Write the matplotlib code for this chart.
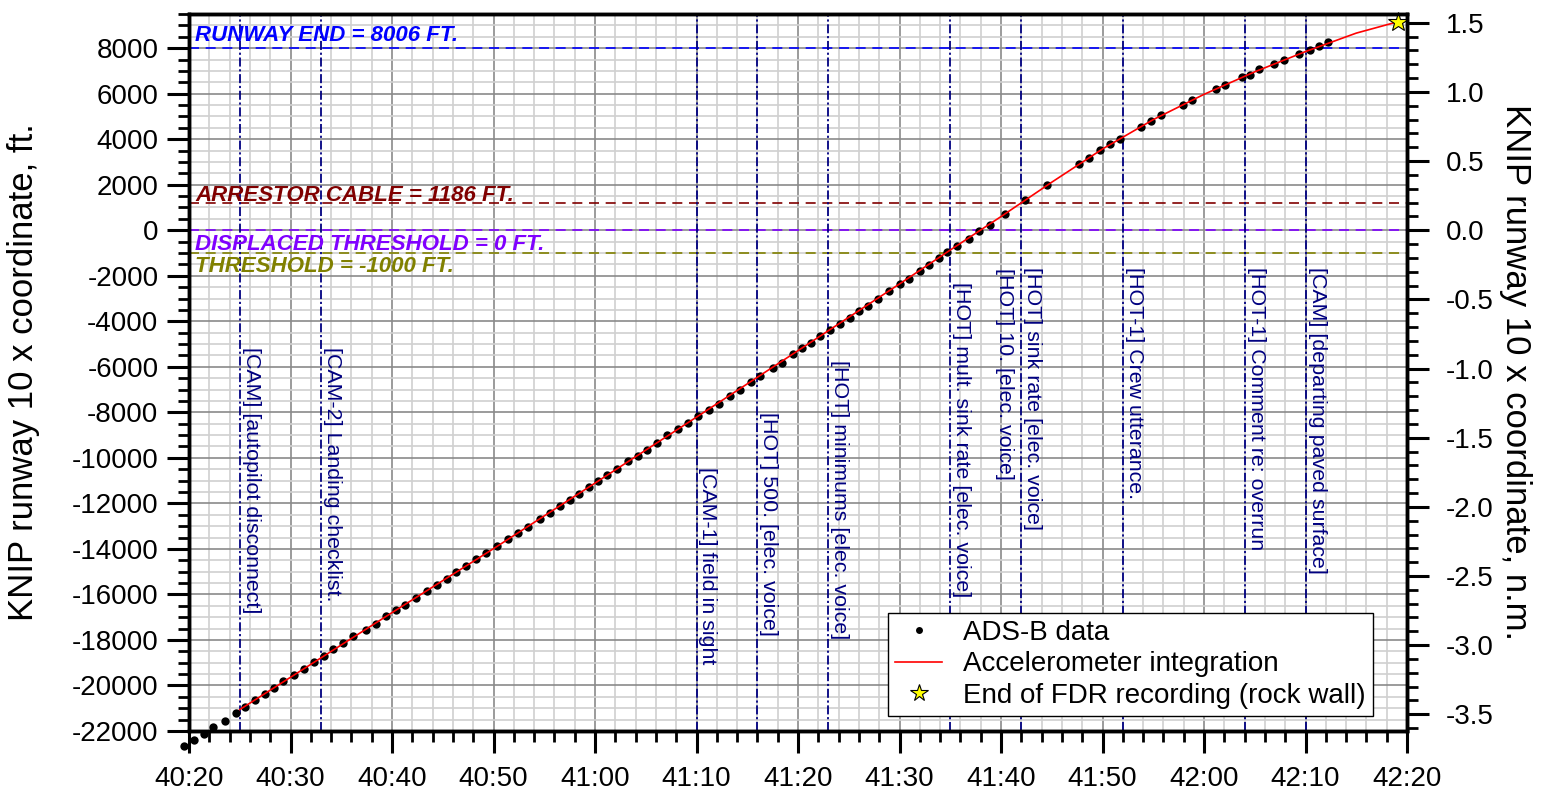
import matplotlib
matplotlib.use("Agg")
import matplotlib.pyplot as plt
from matplotlib.lines import Line2D
from matplotlib.ticker import MultipleLocator, FuncFormatter, FormatStrFormatter

plt.rcParams["font.family"] = ["Liberation Sans", "DejaVu Sans"]
plt.rcParams["axes.unicode_minus"] = False

FT_PER_NM = 6076.12

# ADS-B positions: time (s after the hour) and runway-10 x coordinate (ft)
adsb_time = [
    2419.5, 2420.5, 2421.5, 2422.4, 2423.5, 2424.6, 2425.5, 2426.5, 2427.5, 2428.4,
    2429.3, 2430.3, 2431.3, 2432.3, 2433.3, 2434.2, 2435.2, 2436.2, 2437.4, 2438.4,
    2439.4, 2440.4, 2441.3, 2442.4, 2443.4, 2444.4, 2445.4, 2446.3, 2447.3, 2448.3,
    2449.3, 2450.3, 2451.4, 2452.4, 2453.4, 2454.6, 2455.6, 2456.6, 2457.5, 2458.4,
    2459.4, 2460.3, 2461.2, 2462.2, 2463.3, 2464.2, 2465.1, 2466.1, 2467.1, 2468.2,
    2469.2, 2470.1, 2471.2, 2472.2, 2473.3, 2474.3, 2475.4, 2476.3, 2477.5, 2478.4,
    2479.5, 2480.4, 2481.3, 2482.2, 2483.2, 2484.1, 2485.1, 2486.0, 2486.9, 2487.9,
    2489.0, 2490.0, 2490.9, 2492.0, 2492.9, 2493.9, 2494.7, 2495.7, 2496.8, 2497.8,
    2498.9, 2500.4, 2502.4, 2504.5, 2507.7, 2508.7, 2509.8, 2510.7, 2511.7, 2513.8,
    2514.8, 2515.8, 2517.9, 2518.8, 2521.2, 2522.1, 2523.7, 2524.5, 2525.4, 2526.9,
    2527.9, 2529.4, 2530.4, 2531.3, 2532.2,
]
adsb_ft = [
    -22680, -22390, -22125, -21835, -21570, -21215, -20955, -20630, -20365, -20100,
    -19795, -19560, -19280, -18990, -18710, -18405, -18140, -17845, -17550, -17290,
    -16955, -16705, -16455, -16145, -15855, -15575, -15325, -15020, -14770, -14460,
    -14200, -13890, -13570, -13290, -13025, -12675, -12410, -12115, -11840, -11605,
    -11295, -11005, -10770, -10490, -10140, -9905, -9655, -9335, -8995, -8745,
    -8470, -8175, -7910, -7620, -7265, -7005, -6680, -6390, -6035, -5815,
    -5450, -5185, -4950, -4660, -4395, -4105, -3855, -3545, -3310, -3005,
    -2665, -2375, -2125, -1790, -1510, -1200, -935, -690, -395, -30,
    250, 720, 1335, 1980, 2900, 3180, 3505, 3780, 4030, 4540,
    4790, 5055, 5495, 5700, 6210, 6390, 6725, 6840, 7075, 7325,
    7500, 7735, 7925, 8090, 8250,
]

# Position from integrated accelerometer data
accel_time = [2425.0, 2430, 2440, 2450, 2460, 2470, 2480, 2490, 2495, 2500,
              2505, 2510, 2515, 2520, 2525, 2530, 2535, 2539.1]
accel_ft = [-21060, -19640, -16800, -13990, -11110, -8210, -5290, -2360, -870, 600,
            2110, 3570, 4860, 5970, 6960, 7850, 8660, 9160]

# End of FDR recording
fdr_end_time = 2539.1
fdr_end_ft = 9160

# Runway reference positions
ref_names = ["RUNWAY END", "ARRESTOR CABLE", "DISPLACED THRESHOLD", "THRESHOLD"]
ref_ft = [8006, 1186, 0, -1000]
ref_colors = ["#0000ff", "#800000", "#8000ff", "#808000"]
ref_text_offset_px = [7.5, 2.5, -20, -19.5]

# CVR / cockpit events
event_time = [2425, 2433, 2470, 2476, 2483, 2495, 2502, 2502, 2512, 2524, 2530]
event_label = [
    "[CAM] [autopilot disconnect]",
    "[CAM-2] Landing checklist.",
    "[CAM-1] field in sight",
    "[HOT] 500. [elec. voice]",
    "[HOT] minimums [elec. voice]",
    "[HOT] mult. sink rate [elec. voice]",
    "[HOT] 10. [elec. voice]",
    "[HOT] sink rate [elec. voice]",
    "[HOT-1] Crew utterance.",
    "[HOT-1] Comment re: overrun",
    "[CAM] [departing paved surface]",
]
event_text_top = [-5143, -5143, -10418, -8000, -5714, -2286, -1670, -1626, -1626, -1626, -1626]
event_text_side = ["r", "r", "r", "r", "r", "r", "l", "r", "r", "r", "r"]

x_min, x_max = 2420, 2540
y_min, y_max = -22000, 9500

TICK_FS = 20

fig = plt.figure(figsize=(15.41, 7.94), dpi=100)
ax = fig.add_axes([189 / 1541, 63 / 794, 1218 / 1541, 717 / 794])
ax.set_xlim(x_min, x_max)
ax.set_ylim(y_min, y_max)

# grid
ax.xaxis.set_major_locator(MultipleLocator(10))
ax.xaxis.set_minor_locator(MultipleLocator(2))
ax.yaxis.set_major_locator(MultipleLocator(2000))
ax.yaxis.set_minor_locator(MultipleLocator(500))
ax.grid(which="major", color="#8a8a8a", lw=1.2, zorder=0)
ax.grid(which="minor", color="#d0d0d0", lw=1.2, zorder=0)
ax.set_axisbelow(True)

ax.xaxis.set_major_formatter(FuncFormatter(lambda s, _: f"{int(round(s)) // 60}:{int(round(s)) % 60:02d}"))

for sp in ax.spines.values():
    sp.set_linewidth(2.5)
ax.tick_params(which="major", direction="out", length=16, width=2.2, labelsize=TICK_FS, pad=6,
               top=False, right=False)
ax.tick_params(axis="x", which="major", pad=9)
ax.tick_params(which="minor", direction="out", length=8, width=2.0, top=False, right=False)

# reference lines and their captions
for name, ft, col, off in zip(ref_names, ref_ft, ref_colors, ref_text_offset_px):
    ax.axhline(ft, color=col, lw=1.2, ls=(0, (6, 4)), zorder=2)
    ax.annotate(f"{name} = {ft} FT.", xy=(x_min + 0.6, ft), xytext=(0, off),
                textcoords="offset pixels", color=col, fontsize=16, fontweight="bold",
                fontstyle="italic", ha="left", va="baseline", zorder=3)

# event lines and labels
for t in sorted(set(event_time)):
    ax.axvline(t, color="#000080", lw=1.3, ls=(0, (5, 1.5, 1.2, 1.5)), zorder=2)
for t, lab, top, side in zip(event_time, event_label, event_text_top, event_text_side):
    if side == "r":
        ax.annotate(lab, xy=(t, top), xytext=(2, 0), textcoords="offset pixels",
                    rotation=270, ha="left", va="top", color="#000080", fontsize=15.4,
                    zorder=3)
    else:
        ax.annotate(lab, xy=(t, top), xytext=(-7, 0), textcoords="offset pixels",
                    rotation=270, ha="right", va="top", color="#000080", fontsize=15.4,
                    zorder=3)

# data
ax.plot(adsb_time, adsb_ft, "o", color="black", ms=6, mew=0, zorder=4, clip_on=False)
ax.plot(accel_time, accel_ft, "-", color="red", lw=1.2, zorder=5)
ax.plot([fdr_end_time], [fdr_end_ft], "*", ms=15, mfc="yellow", mec="black", mew=0.8,
        zorder=6, clip_on=False)

ax.set_ylabel("KNIP runway 10 x coordinate, ft.", fontsize=25)
ax.yaxis.set_label_coords(-0.1223, 0.5)

# nautical mile scale on the right
ax2 = ax.twinx()
ax2.set_ylim(y_min / FT_PER_NM, y_max / FT_PER_NM)
ax2.yaxis.set_major_locator(MultipleLocator(0.5))
ax2.yaxis.set_minor_locator(MultipleLocator(0.1))
ax2.yaxis.set_major_formatter(FormatStrFormatter("%.1f"))
for sp in ax2.spines.values():
    sp.set_linewidth(2.5)
ax2.tick_params(which="major", direction="out", length=16, width=2.2, labelsize=TICK_FS, pad=12)
ax2.tick_params(which="minor", direction="out", length=8, width=2.0)
ax2.set_ylabel("KNIP runway 10 x coordinate, n.m.", fontsize=25, rotation=270)
ax2.yaxis.set_label_coords(1.103, 0.5)

handles = [
    Line2D([], [], marker="o", ls="none", color="black", ms=5, mew=0),
    Line2D([], [], color="red", lw=1.2),
    Line2D([], [], marker="*", ls="none", ms=13, mfc="yellow", mec="black", mew=0.8),
]
labels = ["ADS-B data", "Accelerometer integration", "End of FDR recording (rock wall)"]
leg = ax2.legend(handles, labels, loc="lower right", bbox_to_anchor=(0.972, 0.021),
                 borderaxespad=0, fontsize=20, frameon=True, fancybox=False,
                 edgecolor="black", framealpha=1, handlelength=1.7, handletextpad=0.75,
                 labelspacing=0.2, borderpad=0.25)
leg.get_frame().set_linewidth(1.0)
leg.set_zorder(10)

fig.savefig("out.png", dpi=100)
